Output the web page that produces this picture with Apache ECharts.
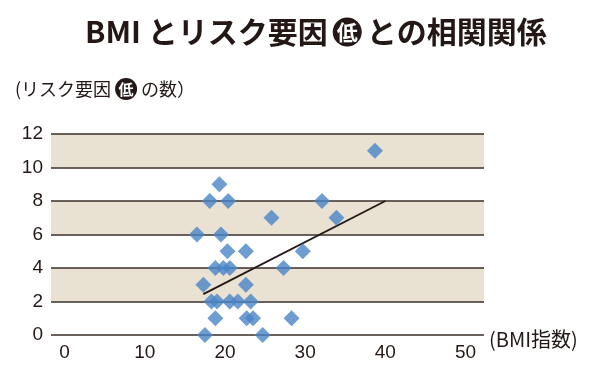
<!DOCTYPE html>
<html><head><meta charset="utf-8">
<script src="https://cdn.jsdelivr.net/npm/echarts@6/dist/echarts.min.js"></script>
<style>html,body{margin:0;padding:0;background:#fff}#c{width:600px;height:374px}</style>
</head><body><div id="c"></div>
<script>
// BMI index of each person
const bmi = [38.7, 19.3, 18.1, 20.4, 32.1, 25.8, 33.9, 16.5, 19.5, 20.3, 22.6, 29.7,
  18.8, 19.8, 20.6, 27.3, 17.3, 22.6, 18.3, 19.0, 20.6, 21.6, 23.2, 18.8, 22.7, 23.5, 28.3, 17.5, 24.7];
// number of risk factors
const risk = [11, 9, 8, 8, 8, 7, 7, 6, 6, 5, 5, 5,
  4, 4, 4, 4, 3, 3, 2, 2, 2, 2, 2, 1, 1, 1, 1, 0, 0];
// trend line end points
const trendX = [17.3, 40];
const trendY = [2.44, 8.0];
const xTickValues = [0, 10, 20, 30, 40, 50];

const ink = '#231815';
const cjk = '"Noto Sans CJK JP", sans-serif';
const chart = echarts.init(document.getElementById('c'));
chart.setOption({
  animation: false,
  backgroundColor: '#fff',
  title: [{
    left: 80, top: 10,
    text: '{a|BMI とリスク要因}{s|}{c|低}{s|}{a|との相関関係}',
    textStyle: {
      rich: {
        a: {fontFamily: cjk, fontSize: 30, fontWeight: 'bold', color: ink, lineHeight: 34},
        s: {width: 5},
        c: {fontFamily: cjk, fontSize: 21, fontWeight: 'bold', color: '#fff', backgroundColor: ink,
            borderRadius: 15, width: 29, height: 29, lineHeight: 29, align: 'center'}
      }
    }
  }, {
    left: 10, top: 72,
    text: '{a|(リスク要因}{s|}{c|低}{s|}{a|の数）}',
    textStyle: {
      rich: {
        a: {fontFamily: cjk, fontSize: 18, fontWeight: 'normal', color: ink, lineHeight: 24},
        s: {width: 4},
        c: {fontFamily: cjk, fontSize: 15, fontWeight: 'bold', color: '#fff', backgroundColor: ink,
            borderRadius: 11, width: 22, height: 22, lineHeight: 22, align: 'center'}
      }
    }
  }],
  graphic: [{
    type: 'text', left: 489, top: 329,
    style: {text: '(BMI指数)', fontFamily: cjk, fontSize: 20, fill: ink}
  }],
  grid: {left: 51, right: 116, top: 134, bottom: 39, outerBoundsMode: 'none'},
  xAxis: {
    type: 'value', min: -1.7, max: 52.3,
    axisLine: {show: false}, axisTick: {show: false}, splitLine: {show: false},
    axisLabel: {customValues: xTickValues, margin: 8, fontSize: 19, color: ink, fontFamily: 'Liberation Sans'}
  },
  yAxis: {
    type: 'value', min: 0, max: 12, interval: 2,
    axisLine: {show: false}, axisTick: {show: false},
    splitLine: {show: true, lineStyle: {color: '#3a2e27', width: 1.5}},
    splitArea: {show: true, areaStyle: {color: ['rgba(0,0,0,0)', '#e9e2d3']}},
    axisLabel: {margin: 8, fontSize: 19, color: ink, fontFamily: 'Liberation Sans'}
  },
  series: [{
    type: 'line', data: trendX.map((x, i) => [x, trendY[i]]),
    symbol: 'none', lineStyle: {color: ink, width: 1.8}, z: 3
  }, {
    type: 'scatter', data: bmi.map((x, i) => [x, risk[i]]),
    symbol: 'diamond', symbolSize: 16, itemStyle: {color: '#4a85c7'}, z: 4
  }]
});
</script></body></html>
